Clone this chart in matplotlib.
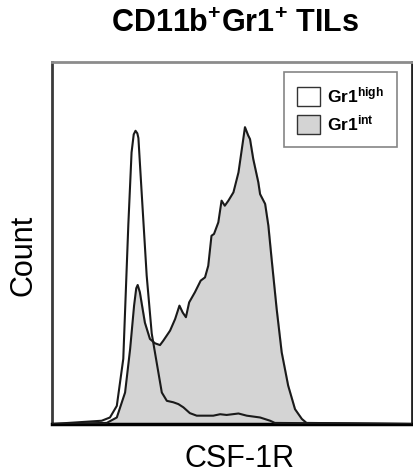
import matplotlib
matplotlib.use("Agg")
import matplotlib.pyplot as plt
from matplotlib.patches import Patch

plt.rcParams['font.family'] = ['Liberation Sans', 'DejaVu Sans']
plt.rcParams['mathtext.fontset'] = 'custom'
plt.rcParams['mathtext.rm'] = 'Liberation Sans'
plt.rcParams['mathtext.bf'] = 'Liberation Sans:bold'

# CSF-1R fluorescence (arbitrary channel scale) vs. normalised count
gr1_high_x = [0, 13.8, 16.1, 18.0, 19.8, 21.2, 22.1, 22.7, 23.2, 23.7, 24.0, 24.9, 26.3,
              27.7, 28.9, 30.5, 31.9, 33.7, 35.1, 36.5, 38.3, 40.2, 44.8, 46.7,
              48.5, 51.8, 54.1, 57.8, 60.6, 61.9, 100]
gr1_high_y = [0, 0.9, 1.8, 5.0, 18.0, 55.0, 75.0, 80.0, 81.0, 80.3, 79.0, 64.0, 41.0,
              25.0, 18.0, 8.7, 6.4, 6.0, 5.5, 4.6, 3.0, 2.3, 2.3, 2.7,
              2.5, 2.9, 2.3, 1.8, 0.9, 0.3, 0]

gr1_int_x = [0, 15.2, 18.0, 20.3, 21.7, 22.8, 23.4, 23.8, 24.4, 25.8, 27.2, 28.6, 30.0,
             30.9, 32.8, 34.2, 35.4, 36.3, 37.2, 38.1, 39.7, 41.3, 42.5, 43.4,
             44.3, 45.0, 46.2, 47.1, 48.0, 49.0, 50.4, 51.8, 53.0, 53.6, 54.5,
             55.0, 55.9, 57.3, 57.8, 59.2, 60.1, 61.0, 62.4, 63.8, 65.6, 67.5,
             69.4, 70.7, 100]
gr1_int_y = [0, 0.3, 1.8, 8.7, 20.7, 32.7, 37.5, 38.4, 36.4, 28.0, 23.5, 22.3, 21.8,
             23.0, 25.8, 29.0, 32.7, 30.8, 29.5, 33.6, 36.4, 39.6, 40.5, 43.7,
             52.0, 52.5, 55.7, 61.7, 60.3, 61.7, 64.0, 69.5, 77.8, 82.0, 79.7,
             78.7, 73.2, 66.8, 63.5, 60.8, 54.8, 45.6, 31.8, 19.8, 10.6, 4.1,
             1.4, 0.3, 0]

series_labels = [r'$\mathbf{Gr1^{high}}$', r'$\mathbf{Gr1^{int}}$']
fill_grey = '#d4d4d4'
line_col = '#1a1a1a'

fig = plt.figure(figsize=(4.14, 4.76), dpi=100)
ax = fig.add_axes([52 / 414, 52 / 476, 360 / 414, 362 / 476])

ax.fill_between(gr1_high_x, 0, gr1_high_y, color='white', zorder=1)
ax.fill_between(gr1_int_x, 0, gr1_int_y, color=fill_grey, zorder=2)
ax.plot(gr1_int_x, gr1_int_y, color=line_col, lw=1.5, zorder=3)
ax.plot(gr1_high_x, gr1_high_y, color=line_col, lw=1.5, zorder=4)

ax.set_xlim(0, 100)
ax.set_ylim(0, 100)
ax.set_xticks([])
ax.set_yticks([])

ax.spines['top'].set_color('#8c8c8c')
ax.spines['top'].set_linewidth(2)
ax.spines['left'].set_color('#3a3a3a')
ax.spines['left'].set_linewidth(2)
ax.spines['right'].set_color('#222222')
ax.spines['right'].set_linewidth(2)
ax.spines['bottom'].set_color('black')
ax.spines['bottom'].set_linewidth(2.5)

handles = [Patch(facecolor='white', edgecolor='#333333', lw=1),
           Patch(facecolor=fill_grey, edgecolor='#333333', lw=1)]
leg = ax.legend(handles, series_labels, loc='upper right',
                bbox_to_anchor=(0.958, 0.972), borderaxespad=0,
                fontsize=12.5, frameon=True,
                fancybox=False, handlelength=1.3, handleheight=1.3,
                handletextpad=0.4, borderpad=0.75, labelspacing=0.45)
leg.get_frame().set_edgecolor('#666666')
leg.get_frame().set_linewidth(1.2)

fig.text(235 / 414, 1 - 24 / 476, r'CD11b$^{\mathbf{+}}$Gr1$^{\mathbf{+}}$ TILs',
         ha='center', va='center', fontsize=22, fontweight='bold')
fig.text(24 / 414, 1 - 255 / 476, 'Count', rotation=90, ha='center',
         va='center', fontsize=22)
fig.text(240 / 414, 1 - 459 / 476, 'CSF-1R', ha='center', va='center',
         fontsize=22)

fig.savefig('out.png', dpi=100)
